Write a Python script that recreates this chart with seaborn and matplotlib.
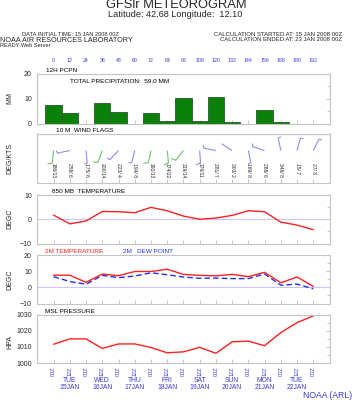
import numpy as np
import pandas as pd
import matplotlib
matplotlib.use("Agg")
import matplotlib.pyplot as plt
from matplotlib.ticker import MultipleLocator
import seaborn as sns

# ---------------- data ----------------
hours = [0, 12, 24, 36, 48, 60, 72, 84, 96, 108, 120, 132, 144, 156, 168, 180, 192]
precip = [7.3, 4.2, 0.0, 8.2, 4.8, 0.0, 4.4, 1.2, 10.5, 0.95, 10.7, 0.8, 0.0, 5.3, 0.7, 0.0, 0.0]
wind_dir = [186, 258, 175, 200, 223, 194, 192, 174, 219, 176, 281, 303, 169, 288, 348, 15, 27]
wind_spd = [13, 6, 6, 14, 4, 8, 13, 22, 14, 11, 7, 2, 8, 6, 8, 7, 8]
t850 = [1.7, -1.9, -0.7, 3.2, 3.1, 2.7, 4.9, 3.5, 1.3, 0.0, 0.5, 1.6, 3.5, 3.1, -1.2, -2.4, -4.3]
t2m = [7.5, 7.5, 3.1, 8.2, 7.2, 9.8, 9.8, 11.2, 8.0, 7.4, 7.1, 8.0, 6.6, 9.3, 2.8, 6.4, 0.6]
td2m = [6.6, 3.6, 1.9, 7.4, 6.0, 7.0, 9.0, 7.8, 6.4, 5.6, 5.7, 5.4, 5.4, 8.3, 1.3, 2.0, -0.9]
mslp = [1011.6, 1014.9, 1014.9, 1009.0, 1011.8, 1011.8, 1009.6, 1006.3, 1006.9, 1009.7,
        1006.0, 1013.1, 1013.5, 1010.7, 1018.8, 1025.0, 1029.1]
time_labels = ["00Z", "12Z"] * 8 + ["00Z"]
day_hours = [12, 36, 60, 84, 108, 132, 156, 180]
day_labels = ["TUE\n15JAN", "WED\n16JAN", "THU\n17JAN", "FRI\n18JAN",
              "SAT\n19JAN", "SUN\n20JAN", "MON\n21JAN", "TUE\n22JAN"]

# ---------------- style ----------------
sns.set_style("white")
plt.rcParams["font.family"] = ["Liberation Sans", "DejaVu Sans"]

W, H = 352, 400
fig = plt.figure(figsize=(W / 100, H / 100), dpi=100)
fig.patch.set_facecolor("white")

X0, X1 = 36.7, 329.5
XLIM = (-12.5, 204.0)
BORDER = "#c4c4c4"
BLUE_TXT = "#3a3ad6"


def px(x, y):
    return x / W, 1 - y / H


def add_panel(top, bottom):
    l, b = px(X0, bottom)
    ax = fig.add_axes([l, b, (X1 - X0) / W, (bottom - top) / H])
    ax.set_xlim(*XLIM)
    for s in ax.spines.values():
        s.set_color(BORDER)
        s.set_linewidth(0.8)
        s.set_visible(True)
    ax.set_xticks(hours)
    ax.tick_params(axis="x", direction="in", length=3, color=BORDER, width=0.7,
                   bottom=True, top=False, labelbottom=False)
    ax.tick_params(axis="y", which="both", left=False, right=True, direction="in",
                   color=BORDER, width=0.7, labelsize=5, pad=3.5)
    ax.tick_params(axis="y", which="major", length=3)
    ax.tick_params(axis="y", which="minor", length=2)
    ax.set_xlabel("")
    ax.set_ylabel("")
    return ax


def ylab(text, yc):
    fx, fy = px(10, yc)
    fig.text(fx, fy, text, rotation=90, ha="center", va="center", fontsize=5)


def ptitle(text, x, y, color="black", size=4.6):
    fx, fy = px(x, y)
    fig.text(fx, fy, text, ha="left", va="center", fontsize=size, color=color)


# ---------------- header ----------------
fig.text(*px(176, 5.5), "GFSlr METEOROGRAM", ha="center", va="center", fontsize=9.3)
fig.text(*px(175.5, 14.5), "Latitude: 42.68 Longitude:  12.10", ha="center", va="center", fontsize=6.6)
fig.text(*px(70, 34.2), "DATA INITIAL TIME: 15 JAN 2008 00Z", ha="center", va="center", fontsize=4.1)
fig.text(*px(0, 40.3), "NOAA AIR RESOURCES LABORATORY", ha="left", va="center", fontsize=5.2)
fig.text(*px(0, 45.5), "READY Web Server", ha="left", va="center", fontsize=4.1)
fig.text(*px(342, 35), "CALCULATION STARTED AT: 15 JAN 2008 00Z", ha="right", va="center", fontsize=4.3)
fig.text(*px(342, 39.5), "CALCULATION ENDED AT: 23 JAN 2008 00Z", ha="right", va="center", fontsize=4.3)

# ---------------- precipitation ----------------
ax1 = add_panel(74, 123.5)
dfp = pd.DataFrame({"hour": hours, "pcpn": precip})
sns.barplot(data=dfp, x="hour", y="pcpn", native_scale=True, width=1.0, color="#0b800b",
            edgecolor="#2a5a2a", linewidth=0.6, errorbar=None, ax=ax1, saturation=1)
ax1.set_xlim(*XLIM)
ax1.set_ylim(0, 20)
ax1.set_yticks([0, 10, 20])
ax1.yaxis.set_minor_locator(MultipleLocator(5))
ax1.set_xlabel("")
ax1.set_ylabel("")
sec = ax1.secondary_xaxis("top")
sec.set_xticks(hours)
sec.set_xticklabels([str(h) for h in hours], fontsize=3.8, color=BLUE_TXT)
sec.tick_params(length=0, pad=8)
sec.spines["top"].set_visible(False)
ylab("MM", 98)
ptitle("12H PCPN", 46, 70.7)
ptitle("TOTAL PRECIPITATION:  %.1f MM" % sum(precip), 70, 81.7)

# ---------------- wind flags ----------------
ax2 = add_panel(134, 183)
ax2.set_ylim(0, 1)
ax2.set_yticks([])
ax2.tick_params(axis="y", right=False)
ax2.yaxis.set_minor_locator(plt.NullLocator())
pw = (X1 - X0) / (XLIM[1] - XLIM[0])   # px per hour
ph = 49.0                                # px per y-unit
base_y = (183 - 150.5) / 49.0
L, B = 12.5, 4.5
for h, d, s in zip(hours, wind_dir, wind_spd):
    col = "#6cc46c" if s >= 12 else "#8c8cf2"
    th = np.deg2rad(d)
    ux, uy = np.sin(th), np.cos(th)
    tx, ty = h + L * ux / pw, base_y + L * uy / ph
    ax2.plot([h, tx], [base_y, ty], color=col, lw=0.8, solid_capstyle="butt")
    if s >= 3:
        bl = B if s >= 10 else B * 0.6
        rx, ry = uy, -ux
        bx = tx + bl * (0.95 * rx + 0.3 * ux) / pw
        by = ty + bl * (0.95 * ry + 0.3 * uy) / ph
        ax2.plot([tx, bx], [ty, by], color=col, lw=0.8)
    ax2.text(h, (183 - 163) / 49.0, "%d/%2d" % (d, s), rotation=270, ha="center", va="top",
             fontsize=3.6)
ylab("DEG/KTS", 158)
ptitle("10 M  WIND FLAGS", 56, 131)

# ---------------- 850 mb temperature ----------------
ax3 = add_panel(195, 243.5)
ax3.axhline(0, color="#c8c8ff", lw=0.8, zorder=1)
sns.lineplot(x=hours, y=t850, color="#ff2020", lw=1.0, ax=ax3, zorder=3)
ax3.set_ylim(-10, 10)
ax3.set_yticks([-10, 0, 10])
ax3.yaxis.set_minor_locator(MultipleLocator(5))
ax3.set_xlim(*XLIM)
ylab("DEGC", 219)
ptitle("850 MB  TEMPERATURE", 52, 191.5)

# ---------------- 2m temperature / dew point ----------------
ax4 = add_panel(255, 303.5)
ax4.axhline(0, color="#c8c8ff", lw=0.8, zorder=1)
sns.lineplot(x=hours, y=t2m, color="#ff2020", lw=1.0, ax=ax4, zorder=3)
sns.lineplot(x=hours, y=td2m, color="#2030ee", lw=1.0, ax=ax4, zorder=2, dashes=False)
ax4.lines[-1].set_dashes((4, 2.2))
ax4.set_ylim(-10, 20)
ax4.set_yticks([-10, 0, 10, 20])
ax4.yaxis.set_minor_locator(MultipleLocator(5))
ax4.set_xlim(*XLIM)
ylab("DEGC", 280)
ptitle("2M TEMPERATURE", 45, 251.7, color="#ff2020")
ptitle("2M   DEW POINT", 123, 251.7, color="#2030ee")

# ---------------- MSL pressure ----------------
ax5 = add_panel(314.5, 363)
sns.lineplot(x=hours, y=mslp, color="#ff2020", lw=1.0, ax=ax5)
ax5.set_ylim(1000, 1030)
ax5.set_yticks([1000, 1010, 1020, 1030])
ax5.yaxis.set_minor_locator(MultipleLocator(5))
ax5.set_xlim(*XLIM)
ax5.tick_params(axis="x", labelbottom=True, labelsize=3.9, labelcolor=BLUE_TXT, pad=2.5)
ax5.set_xticklabels(time_labels, rotation=90)
for h, lab in zip(day_hours, day_labels):
    ax5.text(h, -(377 - 363) / 48.5, lab, transform=ax5.get_xaxis_transform(),
             ha="center", va="top", fontsize=4.9, color=BLUE_TXT, linespacing=0.95)
ylab("HPA", 342)
ptitle("MSL PRESSURE", 45, 311.7)
fig.text(*px(352, 395), "NOAA (ARL)", ha="right", va="center", fontsize=6.2, color=BLUE_TXT)

fig.savefig("out.png", dpi=100, facecolor="white")
